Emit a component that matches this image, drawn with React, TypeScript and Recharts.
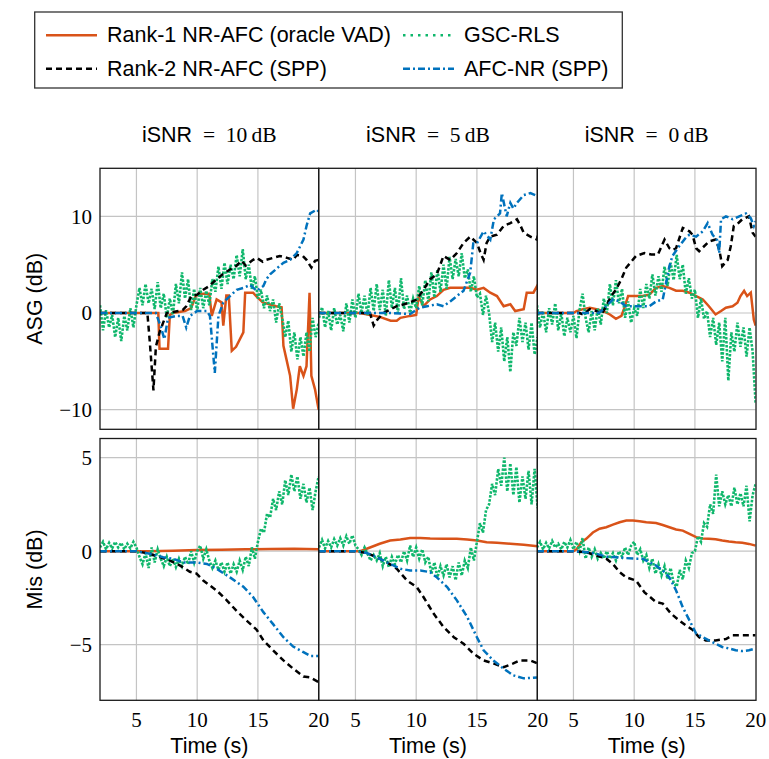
import React from 'react';
import { LineChart, Line, XAxis, YAxis, CartesianGrid } from 'recharts';

type Pt = [number, number];

// tick labels and panel titles
const TIME_TICKS = [5, 10, 15, 20];
const ASG_TICKS = [-10, 0, 10];
const MIS_TICKS = [-5, 0, 5];
const ISNR_LABELS = ['10', '5', '0'];

// sample times of the GSC-RLS curves (s)
const GSC_T = [
  2, 2.25, 2.5, 2.75, 3, 3.25, 3.5, 3.75, 4, 4.25, 4.5, 4.75, 5, 5.25, 5.5, 5.75,
  6, 6.25, 6.5, 6.75, 7, 7.25, 7.5, 7.75, 8, 8.25, 8.5, 8.75, 9, 9.25, 9.5, 9.75,
  10, 10.25, 10.5, 10.75, 11, 11.25, 11.5, 11.75, 12, 12.25, 12.5, 12.75, 13, 13.25, 13.5, 13.75,
  14, 14.25, 14.5, 14.75, 15, 15.25, 15.5, 15.75, 16, 16.25, 16.5, 16.75, 17, 17.25, 17.5, 17.75,
  18, 18.25, 18.5, 18.75, 19, 19.25, 19.5, 19.75, 20,
];

// ---- ASG (dB), iSNR = 10 dB
const asgRank1_10: Pt[] = [
  [2, 0], [6.8, 0], [6.9, -3.7], [7.6, -3.7], [7.75, -0.2], [8, 0], [9, 0.2], [9.5, 0.5], [9.9, 1.8],
  [10.5, 2.0], [11, 2.0], [11.2, -0.3], [11.6, 1.4], [12, 1.1], [12.15, -1.3], [12.4, 1.8], [12.6, 1.8],
  [12.85, -3.9], [13.2, -3.5], [13.8, -2.0], [13.95, 2.1], [14.6, 2.1], [14.9, 1.7], [15.4, 1.1],
  [16.5, 0.7], [16.95, 0.6], [17.1, -3.4], [17.35, -4.8], [17.65, -6.5], [17.9, -9.9], [18.2, -7.9],
  [18.45, -5.5], [18.75, -6.5], [19, -5.5], [19.25, 2.1], [19.4, -6.5], [19.7, -7.9], [20, -10],
];
const asgRank2_10: Pt[] = [
  [2, 0], [5.9, 0], [6.1, -3], [6.4, -8], [6.6, -3.5], [6.9, -2.0], [7.2, -1.0], [7.5, 0], [8, 0.1],
  [8.8, 0.3], [9.1, 0.7], [9.5, 1.7], [10, 1.9], [10.5, 2.4], [11, 2.8], [11.6, 3.5], [12.1, 4.0],
  [12.7, 4.5], [13.2, 4.85], [13.65, 5.4], [14, 4.9], [14.6, 5.5], [14.9, 5.7], [15.4, 5.3], [15.7, 5.5],
  [16.8, 5.9], [17.4, 5.7], [17.9, 5.5], [18.2, 6.0], [18.7, 5.9], [19, 5.5], [19.4, 4.7], [19.7, 5.4],
  [20, 5.5],
];
const asgAfc_10: Pt[] = [
  [2, 0], [6.6, 0], [7, -1.4], [7.3, -2.7], [7.6, -0.5], [8.3, -0.3], [8.8, -0.3], [9.1, -1.5],
  [9.4, -0.3], [10, 0.2], [10.8, 0.2], [11.05, -0.3], [11.45, -6.2], [11.75, -0.3], [12.15, 1.1],
  [12.7, 1.75], [13.25, 2.4], [13.8, 2.6], [14.35, 2.9], [14.9, 2.3], [15.45, 2.8], [15.7, 3.5],
  [16, 4.0], [16.55, 4.6], [17.1, 5.2], [17.65, 5.5], [18.2, 6.2], [18.75, 7.6], [19, 9.0],
  [19.3, 10.3], [19.85, 10.7], [20, 10.5],
];
const asgGsc_10 = [
  0.8, -1.8, 0.3, -1.5, -0.2, -2.5, -0.5, -2.9, -0.3, -1.8, 0.5, -1.5, 0.8, 2.6, 0.8, 3.0,
  1.0, 2.5, 0.4, 3.2, 0.5, 2.0, -0.5, 1.5, -0.2, 3.0, 1.0, 4.2, 1.5, 3.5, 0.3, 2.5,
  0.2, 2.6, 0.5, 2.3, 0.8, 3.5, 2.2, 4.8, 2.5, 5.2, 3.0, 5.0, 3.5, 6.0, 3.8, 6.6,
  3.5, 5.0, 2.5, 3.8, 1.5, 2.4, 0.5, 1.8, 0.2, 1.4, -1.0, 1.0, -0.5, -2.5, -0.8, -4.0,
  -2.0, -4.8, -2.5, -4.5, -2.0, -4.0, -0.5, -2.5, -1.0,
];

// ---- ASG (dB), iSNR = 5 dB
const asgRank1_5: Pt[] = [
  [2, 0], [5.4, 0], [6.2, -0.2], [7, -0.4], [7.9, -0.8], [8.4, -0.8], [8.7, -0.5], [9.5, -0.3],
  [10, -0.2], [10.2, 1.7], [10.6, 0.7], [11.15, 1.4], [11.7, 1.75], [12.25, 2.4], [12.8, 2.6],
  [13.35, 2.6], [13.9, 2.6], [14.45, 2.6], [15, 2.4], [15.55, 2.6], [16.1, 2.1], [16.65, 1.75],
  [17.2, 0.7], [17.75, 0.9], [18.15, 0.2], [18.85, 0.4], [19.1, 2.1], [19.65, 2.1], [19.95, 2.8],
  [20, 2.4],
];
const asgRank2_5: Pt[] = [
  [2, 0], [6.2, 0], [6.5, -1.3], [6.8, -0.7], [7.3, 0], [8.4, 0.7], [9, 0.9], [9.5, 1.1], [10.05, 1.4],
  [10.6, 2.4], [11.15, 3.5], [11.7, 4.0], [12.25, 5.9], [12.8, 5.5], [13.35, 6.2], [13.9, 7.25],
  [14.45, 7.9], [15, 7.25], [15.3, 6.2], [15.55, 5.5], [15.8, 7.25], [16.1, 7.9], [16.65, 8.1],
  [17.2, 9.0], [17.75, 9.3], [18.3, 9.7], [18.6, 9.0], [18.85, 8.3], [19.4, 7.9], [19.95, 7.6], [20, 8.0],
];
const asgAfc_5: Pt[] = [
  [2, 0], [7.9, 0], [9.5, -0.1], [10.3, 0.55], [10.9, 0.7], [11.7, 0.9], [12.25, 0.7], [12.8, 1.2],
  [13.35, 1.75], [13.9, 2.3], [14.45, 4.2], [14.7, 7.2], [15, 7.2], [15.55, 8.45], [16.1, 7.6],
  [16.4, 9.7], [16.9, 10.3], [17.05, 12.4], [17.45, 10.0], [17.75, 11.4], [18, 10.8], [18.3, 11.4],
  [18.85, 12.2], [19.4, 12.4], [19.95, 12.1], [20, 12.0],
];
const asgGsc_5 = [
  -0.5, 0.6, -1.5, 0.2, -1.8, 0.5, -1.2, -0.2, -1.9, 1.0, -1.0, 1.4, -0.5, 2.0, 0.0, 1.8,
  -0.2, 2.6, 0.2, 3.0, 0.3, 2.4, -0.3, 3.4, 0.5, 2.6, 0.0, 3.6, 0.4, 1.8, 0.0, 1.5,
  0.5, 2.8, 0.8, 3.4, 1.2, 4.2, 1.6, 4.5, 2.2, 5.0, 2.5, 5.8, 3.5, 5.6, 3.8, 6.2,
  3.6, 4.5, 2.2, 3.8, 1.6, 2.0, -0.2, 1.8, 0.0, -3.0, -1.0, -4.0, -1.5, -5.0, -2.5, -6.1,
  -2.0, -3.4, -0.5, -3.0, -1.0, -3.8, -1.0, -4.3, -2.5,
];

// ---- ASG (dB), iSNR = 0 dB
const asgRank1_0: Pt[] = [
  [2, 0], [5, 0], [5.25, 0.2], [5.8, 0.4], [6.35, 0.55], [6.9, 0.4], [7.45, 0.2], [8, -0.15],
  [8.5, -0.6], [8.95, -0.3], [9.2, 0.55], [9.5, 1.75], [10.15, 1.75], [10.7, 1.75], [11.25, 1.9],
  [11.8, 2.6], [12.35, 2.8], [12.9, 2.6], [13.45, 2.3], [14, 2.3], [14.55, 2.1], [15.1, 1.75],
  [15.65, 1.4], [16.15, 0.7], [16.7, -0.15], [17.15, 0.2], [17.55, 0.55], [18.1, 0.7], [18.5, 1.07],
  [18.75, 1.75], [19.05, 2.3], [19.3, 1.75], [19.6, 2.1], [19.85, -0.7], [20, -1.3],
];
const asgRank2_0: Pt[] = [
  [2, 0], [5.5, 0], [5.8, -0.15], [6.35, 0.4], [6.9, 0.2], [7.3, -0.15], [7.7, 0.7], [8.1, 1.75],
  [8.5, 2.4], [8.95, 3.5], [9.35, 4.7], [10.15, 5.9], [10.85, 6.2], [11.4, 6.05], [11.95, 6.05],
  [12.5, 7.6], [12.9, 6.7], [13.15, 6.5], [13.45, 6.7], [14, 8.8], [14.55, 8.45], [14.8, 8.1],
  [15.1, 6.7], [15.35, 6.4], [16.15, 7.4], [16.7, 7.6], [17, 6.6], [17.25, 4.85], [17.7, 5.5],
  [17.95, 6.9], [18.2, 9.0], [18.5, 9.2], [18.9, 9.7], [19.45, 10.0], [19.75, 8.3], [20, 7.9],
];
const asgAfc_0: Pt[] = [
  [2, 0], [6.9, 0], [7.15, 0.05], [7.7, 0.7], [8.25, 1.4], [8.8, 1.2], [9.35, 0.7], [9.9, 0.7],
  [10.7, 0.7], [11.25, 0.7], [11.8, 1.2], [12.35, 1.4], [12.9, 4.85], [13.15, 5.9], [13.7, 6.9],
  [14.25, 7.8], [14.55, 8.1], [15.1, 7.9], [15.65, 8.45], [16.05, 9.3], [16.45, 8.1], [16.85, 7.5],
  [17, 6.2], [17.15, 9.7], [17.55, 10.0], [18.1, 9.7], [18.65, 10.0], [19.2, 10.3], [19.6, 9.8],
  [19.85, 9.0], [20, 9.5],
];
const asgGsc_0 = [
  0.8, -1.5, 0.2, -2.0, 0.5, -1.2, 1.0, -1.8, 0.0, -2.4, -0.5, -2.0, -0.3, -2.6, 0.3, 2.0,
  -0.5, -2.0, 0.2, -1.8, 0.5, -1.2, 1.5, 0.0, 3.0, 0.8, 3.4, 1.0, 2.5, -0.5, 1.2, -1.0,
  0.5, -0.3, 2.5, 0.5, 3.0, 1.5, 4.0, 1.8, 3.8, 2.2, 4.8, 2.8, 5.2, 3.4, 6.0, 3.5,
  5.0, 2.0, 3.6, 1.5, 2.4, -0.5, 1.5, -0.6, 0.2, -2.5, -0.5, -3.3, -1.0, -5.0, -0.5, -7.0,
  -2.0, -4.0, -1.0, -3.5, -1.5, -4.5, -1.5, -4.0, -9.4,
];

// ---- Mis (dB), iSNR = 10 dB
const misRank1_10: Pt[] = [
  [2, 0], [6, 0], [8, 0.03], [10, 0.06], [12, 0.08], [14, 0.1], [16, 0.12], [18, 0.13], [20, 0.1],
];
const misRank2_10: Pt[] = [
  [2, 0], [5, 0], [6.1, -0.14], [6.9, -0.32], [7.75, -0.5], [8.6, -0.77], [9.4, -1.1], [9.95, -1.2],
  [10.5, -1.57], [11.6, -2.1], [12.4, -2.6], [13.25, -3.2], [14.05, -3.7], [14.9, -4.2], [15.45, -4.77],
  [16.25, -5.3], [17.1, -5.84], [17.9, -6.28], [18.75, -6.7], [19.3, -6.75], [20, -7.0],
];
const misAfc_10: Pt[] = [
  [2, 0], [5, 0], [6.1, -0.14], [7.2, -0.32], [8, -0.4], [8.85, -0.6], [9.95, -0.6], [10.8, -0.68],
  [11.6, -0.94], [12.7, -1.4], [13.8, -1.9], [14.6, -2.45], [15.45, -3.26], [16.25, -3.9], [17.1, -4.6],
  [17.9, -5.1], [18.75, -5.4], [19.3, -5.6], [20, -5.6],
];
const misGsc_10 = [
  0.2, 0.5, 0.1, 0.45, 0.15, 0.5, 0.2, 0.45, 0.1, 0.4, 0.15, 0.5, 0.2, -0.3, -0.7, -0.1,
  -0.9, 0.2, -0.6, 0.1, -0.4, -0.8, -0.3, -0.8, -0.4, -0.85, -0.4, -0.8, -0.3, -0.7, 0.0, -0.6,
  0.0, 0.3, -0.4, 0.1, -0.5, -0.9, -0.5, -1.0, -0.6, -1.1, -0.6, -1.2, -0.7, -1.1, -0.5, -1.0,
  -0.3, -0.8, 0.2, -0.4, 0.5, 1.2, 1.0, 2.0, 1.8, 2.8, 2.2, 3.2, 2.5, 3.8, 3.0, 4.1,
  3.2, 4.0, 2.8, 3.6, 2.6, 3.4, 2.2, 3.2, 4.0,
];

// ---- Mis (dB), iSNR = 5 dB
const misRank1_5: Pt[] = [
  [2, 0], [5.4, 0], [6.2, 0.2], [7, 0.4], [7.85, 0.57], [8.7, 0.62], [9.5, 0.7], [10.35, 0.71],
  [11.15, 0.68], [12.25, 0.66], [13.35, 0.66], [14.2, 0.62], [15, 0.57], [15.8, 0.48], [16.65, 0.45],
  [17.75, 0.4], [18.85, 0.34], [20, 0.27],
];
const misRank2_5: Pt[] = [
  [2, 0], [5, 0], [5.95, -0.1], [6.75, -0.32], [7.6, -0.6], [8.4, -0.94], [9.25, -1.57], [10.05, -1.92],
  [10.6, -2.45], [11.45, -3.35], [12.25, -4.05], [13.1, -4.6], [13.9, -4.95], [14.75, -5.5],
  [15.55, -5.84], [16.35, -6.0], [17.2, -6.2], [18, -6.0], [18.55, -5.84], [19.4, -5.84], [20, -6.0],
];
const misAfc_5: Pt[] = [
  [2, 0], [5, 0], [5.95, -0.1], [6.75, -0.32], [7.85, -0.68], [8.7, -0.94], [9.5, -1.03], [10.35, -1.03],
  [11.15, -1.12], [11.7, -1.4], [12.55, -1.92], [13.35, -2.63], [14.2, -3.52], [15, -4.6], [15.55, -5.3],
  [16.35, -5.84], [17.2, -6.28], [18, -6.64], [18.85, -6.8], [20, -6.75],
];
const misGsc_5 = [
  0.2, 0.6, 0.15, 0.55, 0.2, 0.65, 0.3, 0.7, 0.3, 0.8, 0.4, 0.85, 0.3, 0.1, -0.2, 0.2,
  -0.15, -0.5, -0.2, -0.5, -0.1, -0.8, -0.3, -0.85, -0.3, -0.7, -0.2, -0.6, 0.0, -0.5, 0.3, -0.3,
  0.2, -0.4, 0.1, -0.6, -0.3, -1.2, -0.6, -1.4, -0.8, -1.3, -0.7, -1.4, -0.8, -1.55, -0.6, -1.3,
  -0.5, -0.9, 0.2, -0.5, 0.5, 1.5, 1.0, 2.2, 2.5, 3.6, 3.0, 4.4, 3.5, 5.0, 3.2, 4.7,
  3.0, 4.5, 2.6, 4.0, 2.8, 4.3, 2.5, 4.4, 2.3,
];

// ---- Mis (dB), iSNR = 0 dB
const misRank1_0: Pt[] = [
  [2, 0], [5, 0], [5.25, 0.1], [5.65, 0.48], [6.05, 0.66], [6.6, 1.0], [7.15, 1.2], [7.7, 1.28],
  [8.25, 1.42], [8.8, 1.55], [9.35, 1.64], [9.9, 1.64], [10.45, 1.6], [11, 1.55], [11.8, 1.51],
  [12.35, 1.4], [12.9, 1.28], [13.45, 1.16], [14, 1.1], [14.55, 0.93], [15.1, 0.75], [15.65, 0.68],
  [16.15, 0.66], [16.7, 0.64], [17.25, 0.57], [17.8, 0.52], [18.35, 0.48], [18.9, 0.45], [19.45, 0.39],
  [20, 0.3],
];
const misRank2_0: Pt[] = [
  [2, 0], [5, 0], [6.05, -0.05], [6.9, -0.23], [7.7, -0.4], [8.25, -0.68], [8.8, -1.12], [9.35, -1.4],
  [10.15, -1.57], [10.85, -2.2], [11.8, -2.72], [12.35, -2.8], [13.05, -3.35], [13.7, -3.7],
  [14.25, -3.97], [14.8, -4.2], [15.35, -4.6], [15.9, -4.77], [16.7, -4.77], [17.55, -4.7],
  [18.1, -4.5], [18.9, -4.5], [20, -4.5],
];
const misAfc_0: Pt[] = [
  [2, 0], [5, 0], [6.05, -0.05], [6.9, -0.14], [7.7, -0.29], [8.5, -0.32], [9.35, -0.37], [10.15, -0.4],
  [10.7, -0.4], [11.25, -0.59], [11.8, -0.77], [12.35, -1.03], [12.9, -1.4], [13.45, -2.1], [14, -3.0],
  [14.55, -3.7], [15.1, -4.4], [15.65, -4.6], [16.15, -4.77], [16.7, -4.95], [17.25, -5.12],
  [17.8, -5.2], [18.35, -5.3], [18.9, -5.34], [19.45, -5.3], [20, -5.2],
];
const misGsc_0 = [
  0.2, 0.5, 0.1, 0.45, 0.15, 0.55, 0.2, 0.4, 0.1, 0.5, 0.2, 0.6, 0.1, 0.5, 0.0, 0.7,
  -0.4, 0.2, -0.3, 0.1, -0.4, -0.1, -0.4, 0.0, -0.4, -0.1, -0.5, 0.0, -0.3, 0.2, -0.2, 0.3,
  0.5, -0.2, 0.1, -0.5, -0.2, -0.9, -0.4, -1.2, -0.7, -1.3, -0.8, -1.5, -0.9, -1.7, -1.9, -1.0,
  -1.5, -0.5, -0.9, -0.1, 0.0, 0.8, 0.5, 1.5, 1.3, 2.5, 2.0, 4.1, 2.4, 3.2, 2.5, 3.0,
  2.4, 3.4, 2.5, 3.1, 2.4, 3.5, 1.6, 3.0, 3.6,
];

const COLORS = { rank1: '#d95319', rank2: '#000000', gsc: '#0fb76c', afc: '#0072bd' };
const DASH = { rank1: undefined, rank2: '6 4', gsc: '2.5 1.5', afc: '7 3 2 3' };
const LEGEND_DASH = { rank1: undefined, rank2: '6 4', gsc: '2.5 5', afc: '7 3 2 3' };

const SANS = "'Liberation Sans', Arial, sans-serif";
const SERIF = "'Liberation Serif', 'Times New Roman', serif";

// layout of the 2 x 3 panels
const PX = 100;
const PW = 218.67;
const ROW_Y = [168.3, 438.5];
const ROW_H = [261, 261.8];

const toData = (pts: Pt[]) => pts.map(([t, v]) => ({ t, v }));
const gscData = (vals: number[]) => GSC_T.map((t, i) => ({ t, v: vals[i] }));
const fmt = (v: number) => (v < 0 ? `\u2212${-v}` : `${v}`);

interface PanelProps {
  row: number;
  col: number;
  rank1: Pt[];
  rank2: Pt[];
  afc: Pt[];
  gsc: number[];
}

const Panel: React.FC<PanelProps> = ({ row, col, rank1, rank2, afc, gsc }) => {
  const showY = col === 0;
  const showX = row === 1;
  const yW = showY ? PX : 0;
  const padR = showX ? 16 : 0;
  const xH = showX ? 48 : 0;
  const yTicks = row === 0 ? ASG_TICKS : MIS_TICKS;
  const yDomain = row === 0 ? [-12, 15] : [-8, 6];
  const left = showY ? 0 : PX + col * PW;

  return (
    <div style={{ position: 'absolute', left, top: ROW_Y[row] }}>
      <LineChart
        width={yW + PW + padR}
        height={ROW_H[row] + xH}
        margin={{ top: 0, right: padR, bottom: 0, left: 0 }}
      >
        <CartesianGrid
          stroke="#c4c4c4"
          strokeWidth={1.2}
          verticalValues={[5, 10, 15]}
          horizontalValues={yTicks}
        />
        <XAxis
          type="number"
          dataKey="t"
          domain={[2, 20]}
          ticks={TIME_TICKS}
          interval={0}
          hide={!showX}
          height={xH}
          axisLine={false}
          tickLine={false}
          tickSize={0}
          tickMargin={11}
          tick={{ fontFamily: SERIF, fontSize: 21, fill: '#000' }}
          allowDataOverflow
        />
        <YAxis
          type="number"
          domain={yDomain}
          ticks={yTicks}
          interval={0}
          hide={!showY}
          width={yW}
          axisLine={false}
          tickLine={false}
          tickSize={0}
          tickMargin={8}
          tickFormatter={fmt}
          tick={{ fontFamily: SERIF, fontSize: 21, fill: '#000' }}
          allowDataOverflow
        />
        <Line data={toData(rank1)} dataKey="v" type="linear" stroke={COLORS.rank1} strokeWidth={2.5}
          dot={false} activeDot={false} isAnimationActive={false} />
        <Line data={gscData(gsc)} dataKey="v" type="linear" stroke={COLORS.gsc} strokeWidth={2.6}
          strokeDasharray={DASH.gsc} dot={false} activeDot={false} isAnimationActive={false} />
        <Line data={toData(rank2)} dataKey="v" type="linear" stroke={COLORS.rank2} strokeWidth={2.5}
          strokeDasharray={DASH.rank2} dot={false} activeDot={false} isAnimationActive={false} />
        <Line data={toData(afc)} dataKey="v" type="linear" stroke={COLORS.afc} strokeWidth={2.5}
          strokeDasharray={DASH.afc} dot={false} activeDot={false} isAnimationActive={false} />
      </LineChart>
    </div>
  );
};

const LEGEND = [
  { key: 'rank1', label: 'Rank-1 NR-AFC (oracle VAD)', x: 46, y: 35.3 },
  { key: 'gsc', label: 'GSC-RLS', x: 403, y: 35.3 },
  { key: 'rank2', label: 'Rank-2 NR-AFC (SPP)', x: 46, y: 68.7 },
  { key: 'afc', label: 'AFC-NR (SPP)', x: 403, y: 68.7 },
] as const;

const App: React.FC = () => {
  const panels = [
    { rank1: asgRank1_10, rank2: asgRank2_10, afc: asgAfc_10, gsc: asgGsc_10 },
    { rank1: asgRank1_5, rank2: asgRank2_5, afc: asgAfc_5, gsc: asgGsc_5 },
    { rank1: asgRank1_0, rank2: asgRank2_0, afc: asgAfc_0, gsc: asgGsc_0 },
    { rank1: misRank1_10, rank2: misRank2_10, afc: misAfc_10, gsc: misGsc_10 },
    { rank1: misRank1_5, rank2: misRank2_5, afc: misAfc_5, gsc: misGsc_5 },
    { rank1: misRank1_0, rank2: misRank2_0, afc: misAfc_0, gsc: misGsc_0 },
  ];

  return (
    <div style={{ position: 'absolute', left: 0, top: 0, width: 769, height: 759, background: '#fff' }}>
      {panels.map((p, i) => (
        <Panel key={i} row={Math.floor(i / 3)} col={i % 3} {...p} />
      ))}
      <svg width={769} height={759} style={{ position: 'absolute', left: 0, top: 0, pointerEvents: 'none' }}>
        {/* legend */}
        <rect x={34.7} y={12} width={587.6} height={76} fill="#fff" stroke="#333" strokeWidth={1.3} />
        {LEGEND.map((e) => (
          <g key={e.key}>
            <line x1={e.x} x2={e.x + 51} y1={e.y} y2={e.y} stroke={COLORS[e.key]} strokeWidth={2.6}
              strokeDasharray={LEGEND_DASH[e.key]} />
            <text x={e.x + 61} y={e.y + 6.8} fontFamily={SANS} fontSize={21.5} fill="#000">{e.label}</text>
          </g>
        ))}
        {/* column titles */}
        {ISNR_LABELS.map((s, c) => (
          <text key={s} x={PX + PW * (c + 0.5)} y={141.7} textAnchor="middle" fontSize={21.5} fill="#000">
            <tspan fontFamily={SANS}>iSNR</tspan>
            <tspan fontFamily={SERIF}>{`\u2002=\u2002${s}\u2009dB`}</tspan>
          </text>
        ))}
        {/* axis titles */}
        <text transform={`translate(41.5, ${ROW_Y[0] + ROW_H[0] / 2}) rotate(-90)`} textAnchor="middle"
          fontFamily={SANS} fontSize={21.5} fill="#000">ASG (dB)</text>
        <text transform={`translate(41.5, ${ROW_Y[1] + ROW_H[1] / 2}) rotate(-90)`} textAnchor="middle"
          fontFamily={SANS} fontSize={21.5} fill="#000">Mis (dB)</text>
        {[0, 1, 2].map((c) => (
          <text key={c} x={PX + PW * (c + 0.5)} y={753} textAnchor="middle" fontFamily={SANS} fontSize={21.5}
            fill="#000">Time (s)</text>
        ))}
        {/* panel frames */}
        {[0, 1].map((r) =>
          [0, 1, 2].map((c) => (
            <rect key={`${r}-${c}`} x={PX + PW * c} y={ROW_Y[r]} width={PW} height={ROW_H[r]} fill="none"
              stroke="#1a1a1a" strokeWidth={1.3} />
          ))
        )}
      </svg>
    </div>
  );
};

export default App;
